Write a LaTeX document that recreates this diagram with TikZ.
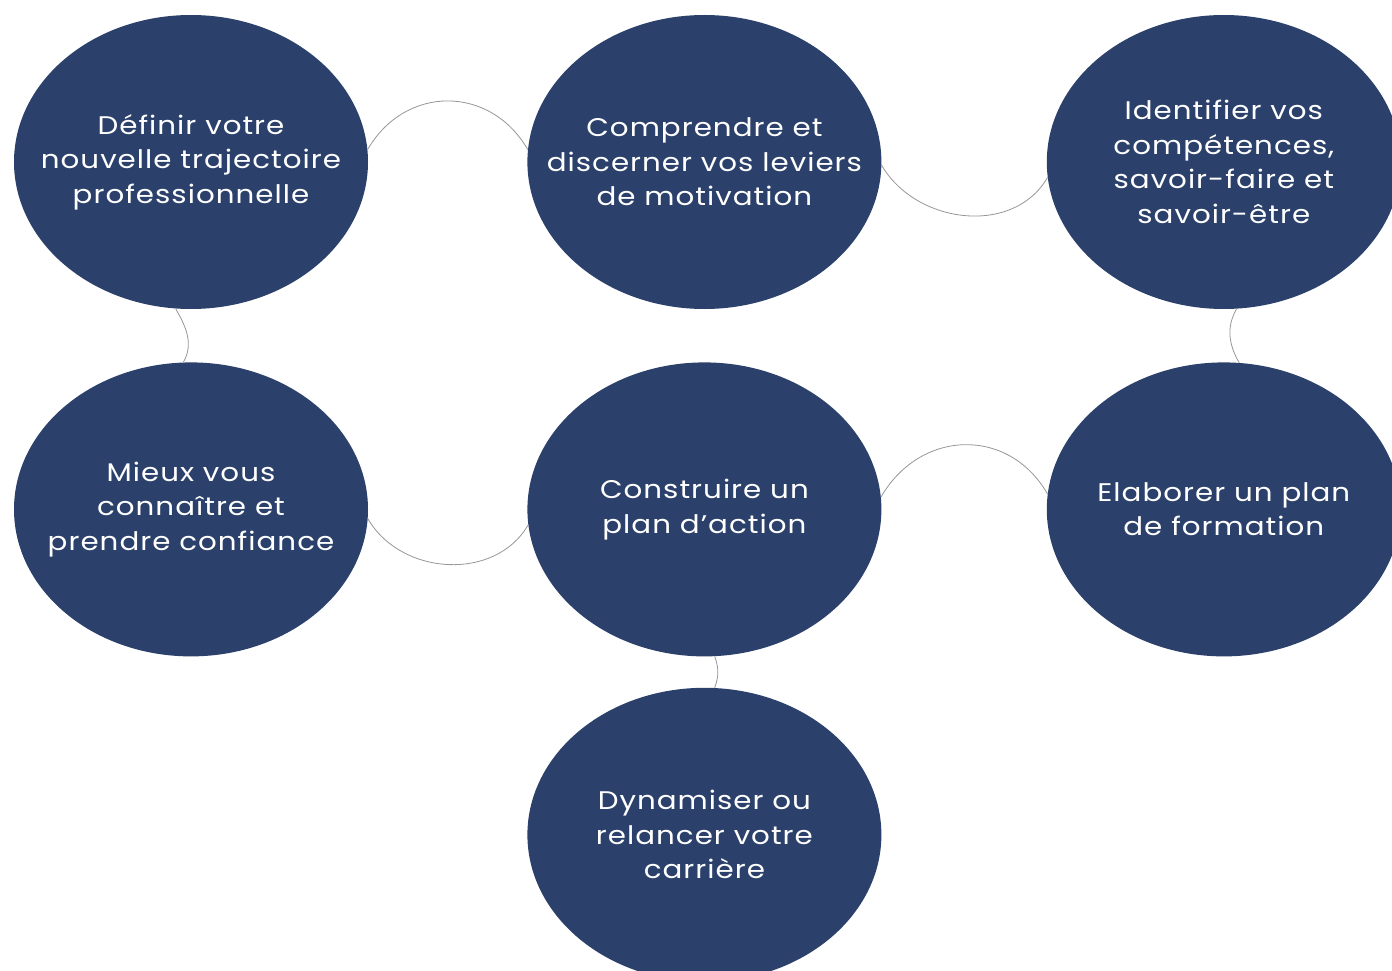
\documentclass[tikz,border=0pt]{standalone}
\usepackage{fontspec}
\setmainfont{Poppins}[FakeStretch=1.15,LetterSpace=4]
\usepackage{tikz}
\usetikzlibrary{positioning}
\usetikzlibrary{shapes.geometric}
\definecolor{navy}{RGB}{43,65,107}
\definecolor{linkgray}{RGB}{150,150,150}
\tikzset{%
  bubble/.style = {ellipse,fill=navy,text=white,align=center,inner sep=-45pt,
        minimum width=354pt,minimum height=294pt,
        font=\fontsize{25.5}{34.5}\selectfont},
  link/.style = {draw=linkgray,line width=0.8pt}
}

\begin{document}
\begin{tikzpicture}[x=1pt,y=-1pt]
\clip (0,0) rectangle (1392,971);
\node[bubble] (define) at (191,162) {Définir votre\\nouvelle trajectoire\\professionnelle};
\node[bubble, right=159pt of define] (motiv) {Comprendre et\\discerner vos leviers\\de motivation};
\node[bubble, right=165pt of motiv] (skills) {Identifier vos\\compétences,\\savoir-faire et\\savoir-être};
\node[bubble, below=53pt of define] (know) {Mieux vous\\connaître et\\prendre confiance};
\node[bubble, below=53pt of motiv] (plan) {Construire un\\plan d'action};
\node[bubble, below=53pt of skills] (train) {Elaborer un plan\\de formation};
\node[bubble, below=31pt of plan] (career) {Dynamiser ou\\relancer votre\\carrière};

\draw[link] (define.4) to[out=60,in=120,looseness=1.2] (motiv.176);
\draw[link] (motiv.-1) to[out=-60,in=-120,looseness=1.05] (skills.185);
\draw[link] (know.-3) to[out=-60,in=-120,looseness=1.05] (plan.185);
\draw[link] (plan.4) to[out=60,in=120,looseness=1.2] (train.175);
\draw[link] (define.-96) to[out=-60,in=60] (know.93);
\draw[link] (skills.-85) to[out=-120,in=120] (train.84);
\draw[link] (plan.-86) to[out=-70,in=70] (career.86);
\end{tikzpicture}
\end{document}
